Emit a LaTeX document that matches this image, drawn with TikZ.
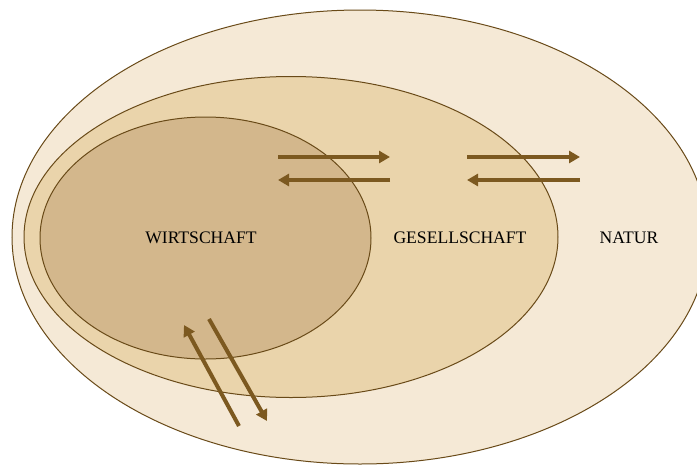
\documentclass[tikz,border=0pt]{standalone}
\usepackage{fontspec}
\setmainfont{Liberation Serif}
\usepackage{tikz}
\usetikzlibrary{arrows.meta,shapes.geometric}

\definecolor{naturfill}{RGB}{245,233,214}
\definecolor{gesfill}{RGB}{234,212,171}
\definecolor{wirtfill}{RGB}{211,183,140}
\definecolor{zoneline}{RGB}{105,74,24}
\definecolor{flowbrown}{RGB}{124,89,32}

\begin{document}
\begin{tikzpicture}[
  x=1pt, y=-1pt,
  zone/.style={ellipse, draw=zoneline, line width=1pt, inner sep=0pt},
  flow/.style={-{Triangle[length=11pt,width=12pt]}, line width=4pt, draw=flowbrown},
  lbl/.style={font=\fontsize{17.6}{20}\selectfont}
]
\useasboundingbox (0,0) rectangle (697,464);

% nested spheres
\node[zone, fill=naturfill, minimum width=696pt, minimum height=454pt] (natur) at (360,237) {};
\node[zone, fill=gesfill, minimum width=534pt, minimum height=321pt] (ges) at (291,237) {};
\node[zone, fill=wirtfill, minimum width=331pt, minimum height=242pt] (wirt) at (205.5,238) {};

\node[lbl] (wirtlabel) at (201,238) {WIRTSCHAFT};
\node[lbl] (geslabel) at (460,238) {GESELLSCHAFT};
\node[lbl] (naturlabel) at (629,238) {NATUR};

% exchange points
\coordinate (wgA) at (278,157);
\coordinate (wgB) at (390,157);
\coordinate (gwA) at (390,180);
\coordinate (gwB) at (278,180);
\coordinate (gnA) at (467,157);
\coordinate (gnB) at (580,157);
\coordinate (ngA) at (580,180);
\coordinate (ngB) at (467,180);
\coordinate (nwA) at (239,426);
\coordinate (nwB) at (184,325);
\coordinate (wnA) at (209,319);
\coordinate (wnB) at (267,421);

\draw[flow] (wgA) -- (wgB);
\draw[flow] (gwA) -- (gwB);
\draw[flow] (gnA) -- (gnB);
\draw[flow] (ngA) -- (ngB);
\draw[flow] (nwA) -- (nwB);
\draw[flow] (wnA) -- (wnB);
\end{tikzpicture}
\end{document}
